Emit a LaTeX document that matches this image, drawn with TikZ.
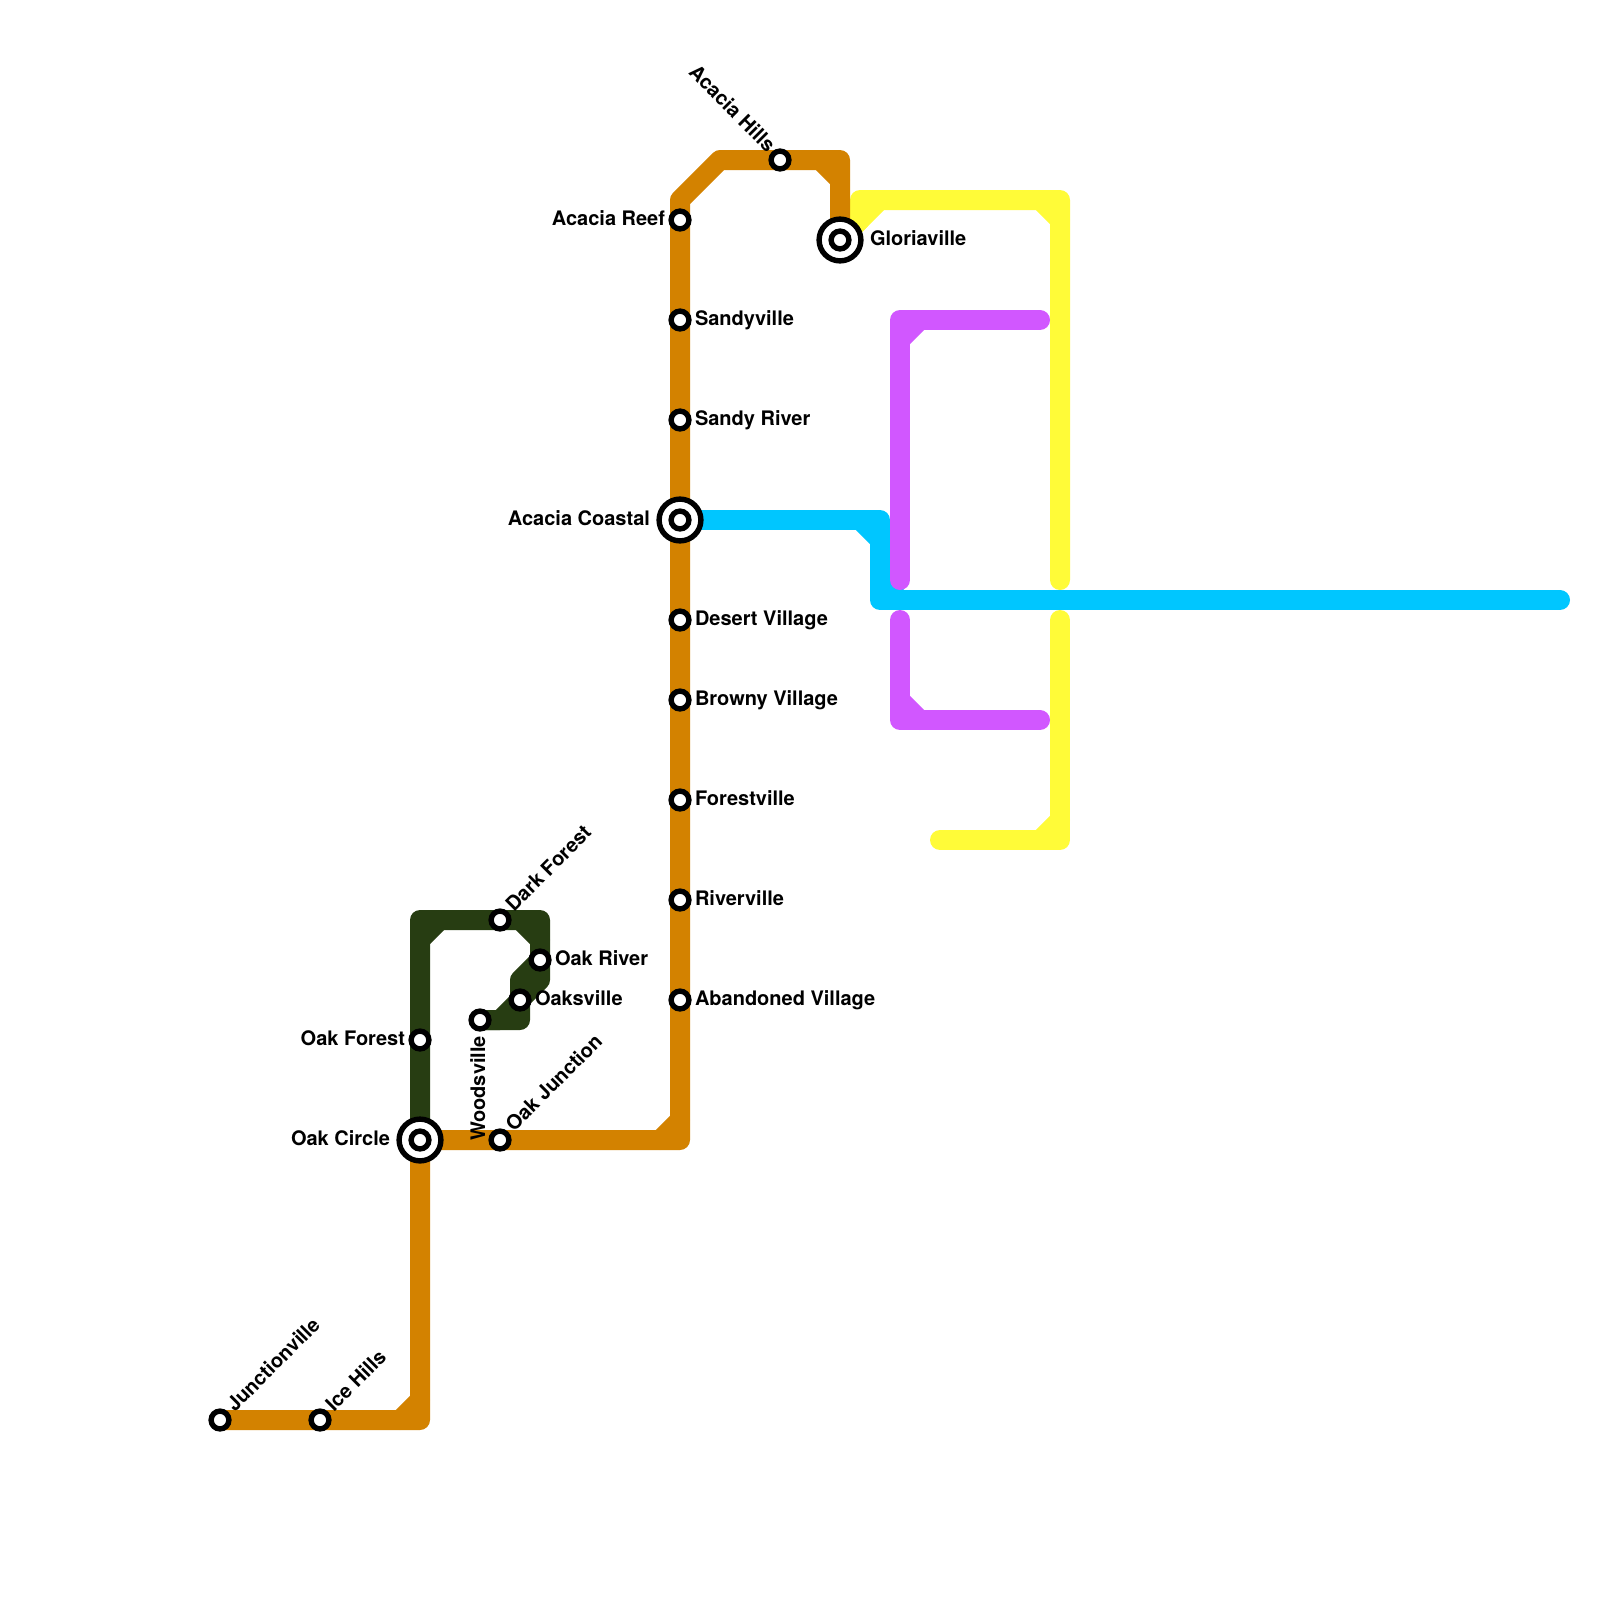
\documentclass[tikz,border=0pt]{standalone}
\usepackage{fontspec}
\setmainfont{TeX Gyre Heros}
\pgfdeclarelayer{lines}
\pgfsetlayers{lines,main}
\definecolor{ochre}{RGB}{211,130,0}
\definecolor{forest}{RGB}{39,61,18}
\definecolor{lemon}{RGB}{255,251,56}
\definecolor{violet}{RGB}{209,87,255}
\definecolor{sky}{RGB}{0,198,255}
\tikzset{
  route/.style={line width=10pt,line join=round,line cap=round},
  stop/.style={circle,draw=black,fill=white,line width=2.7pt,minimum size=8.9pt,inner sep=0pt,outer sep=0pt},
  hub/.style={circle,draw=black,fill=white,line width=2.7pt,minimum size=20.9pt,inner sep=0pt,outer sep=0pt},
  lab/.style={font=\bfseries\fontsize{10}{12}\selectfont,text=black,inner sep=0pt,outer sep=0pt},
  lr/.style={lab,anchor=base west},
  ll/.style={lab,anchor=base east},
}
\begin{document}
\begin{tikzpicture}[x=0.5pt,y=-0.5pt]
\useasboundingbox (0,0) rectangle (1600,1600);
% hubs
\node[hub] (hubcoastal) at (680,520) {};
\node[hub] (hubcircle) at (420,1140) {};
\node[hub] (hubgloria) at (840,240) {};
% stops
\node[stop] (coastal) at (680,520) {};
\node[stop] (circle) at (420,1140) {};
\node[stop] (gloria) at (840,240) {};
\node[stop] (reef) at (680,220) {};
\node[stop] (sandyville) at (680,320) {};
\node[stop] (sandyriver) at (680,420) {};
\node[stop] (desert) at (680,620) {};
\node[stop] (browny) at (680,700) {};
\node[stop] (forestville) at (680,800) {};
\node[stop] (riverville) at (680,900) {};
\node[stop] (abandoned) at (680,1000) {};
\node[stop] (oakjunction) at (500,1140) {};
\node[stop] (oakforest) at (420,1040) {};
\node[stop] (woodsville) at (480,1020) {};
\node[stop] (oaksville) at (520,1000) {};
\node[stop] (oakriver) at (540,960) {};
\node[stop] (darkforest) at (500,920) {};
\node[stop] (hills) at (780,160) {};
\node[stop] (junctionville) at (220,1420) {};
\node[stop] (icehills) at (320,1420) {};
% free line ends
\coordinate (pbta) at (1040,320);
\coordinate (pbtb) at (900,580);
\coordinate (pbba) at (900,620);
\coordinate (pbbb) at (1040,720);
\coordinate (yta) at (1060,580);
\coordinate (yba) at (1060,620);
\coordinate (ybb) at (940,840);
\coordinate (bend) at (1560,600);
% lines
\begin{pgfonlayer}{lines}
\draw[route,lemon] (gloria.center) -- (860,220) -- (860,200) -- (1060,200) -- (yta);
\draw[route,lemon] (gloria.center) -- (880,200);
\draw[route,lemon] (1040,200) -- (1060,220);
\draw[route,lemon] (yba) -- (1060,840) -- (ybb);
\draw[route,lemon] (1040,840) -- (1060,820);
\draw[route,sky] (coastal.center) -- (880,520) -- (880,600) -- (bend);
\draw[route,sky] (860,520) -- (880,540);
\draw[route,sky] (880,580) -- (900,600);
\draw[route,violet] (pbta) -- (900,320) -- (pbtb);
\draw[route,violet] (900,340) -- (920,320);
\draw[route,violet] (pbba) -- (900,720) -- (pbbb);
\draw[route,violet] (900,700) -- (920,720);
\draw[route,ochre] (junctionville.center) -- (420,1420) -- (circle.center) -- (680,1140) -- (680,200) -- (720,160) -- (840,160) -- (gloria.center);
\draw[route,ochre] (400,1420) -- (420,1400);
\draw[route,ochre] (660,1140) -- (680,1120);
\draw[route,ochre] (820,160) -- (840,180);
\draw[route,forest] (circle.center) -- (420,920) -- (540,920) -- (540,980) -- (520,1000) -- (500,1020) -- (woodsville.center);
\draw[route,forest] (oakriver.center) -- (520,980) -- (520,1020) -- (woodsville.center);
\draw[route,forest] (420,940) -- (440,920);
\draw[route,forest] (520,920) -- (540,940);
\fill[forest] (540,960) -- (540,980) -- (520,1000) -- (520,980) -- cycle;
\end{pgfonlayer}
% labels
\node[ll] (lreef) at (665,225.5) {Acacia Reef};
\node[lr] (lsandyville) at (695,325.5) {Sandyville};
\node[lr] (lsandyriver) at (695,425.5) {Sandy River};
\node[ll] (lcoastal) at (650,525.5) {Acacia Coastal};
\node[lr] (ldesert) at (695,625.5) {Desert Village};
\node[lr] (lbrowny) at (695,705.5) {Browny Village};
\node[lr] (lforest) at (695,805.5) {Forestville};
\node[lr] (lriver) at (695,905.5) {Riverville};
\node[lr] (labandoned) at (695,1005.5) {Abandoned Village};
\node[lr] (lgloria) at (870,245.5) {Gloriaville};
\node[lr] (loakriver) at (555,965.5) {Oak River};
\node[lr] (loaksville) at (535,1005.5) {Oaksville};
\node[ll] (loakforest) at (405,1045.5) {Oak Forest};
\node[ll] (loakcircle) at (390,1145.5) {Oak Circle};
\node[lab,rotate=90,anchor=base east] (lwoods) at (485,1036) {Woodsville};
\node[lab,rotate=45,anchor=base west] (ldark) at (514,912.5) {Dark Forest};
\node[lab,rotate=45,anchor=base west] (ljunction) at (514,1132.5) {Oak Junction};
\node[lab,rotate=45,anchor=base west] (ljv) at (235,1412.5) {Junctionville};
\node[lab,rotate=45,anchor=base west] (lice) at (334,1412.5) {Ice Hills};
\node[lab,rotate=-45,anchor=base east] (lhills) at (767,153) {Acacia Hills};
\end{tikzpicture}
\end{document}
